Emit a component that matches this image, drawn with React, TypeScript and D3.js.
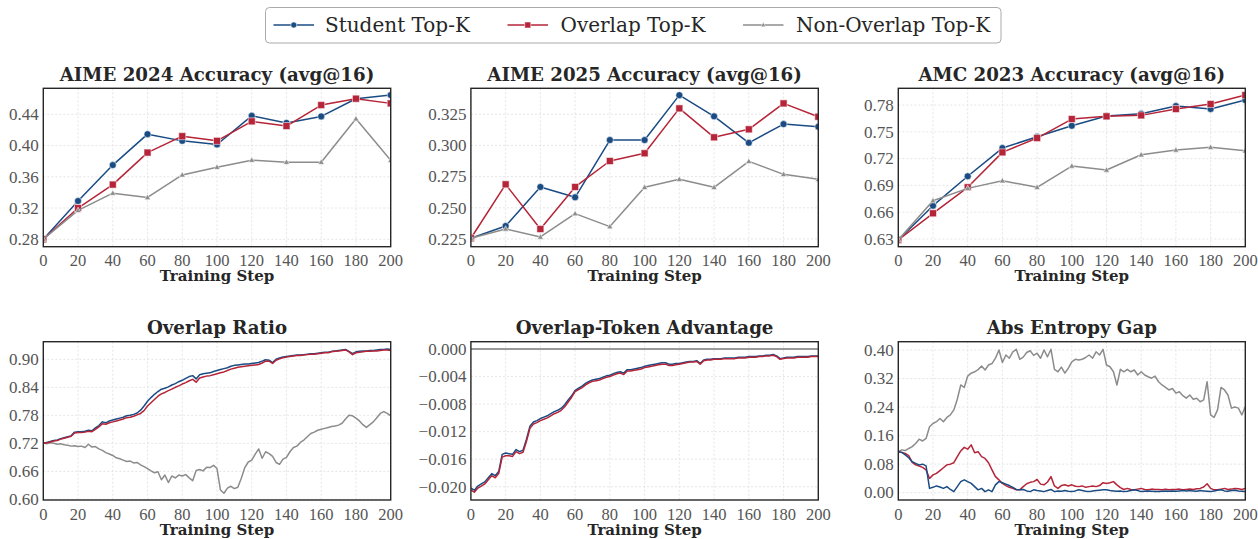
import React from 'react';
import * as d3 from 'd3';

// ---------- data ----------
const evalSteps = [0, 20, 40, 60, 80, 100, 120, 140, 160, 180, 200];
const xTickValues = [0, 20, 40, 60, 80, 100, 120, 140, 160, 180, 200];
const seriesNames = ['Student Top-K', 'Overlap Top-K', 'Non-Overlap Top-K'];

const aime24Student = [0.28, 0.329, 0.375, 0.4146, 0.406, 0.4014, 0.438, 0.429, 0.4373, 0.4599, 0.4646];
const aime24Overlap = [0.28, 0.32, 0.35, 0.391, 0.412, 0.406, 0.431, 0.425, 0.4518, 0.46, 0.454];
const aime24NonOverlap = [0.28, 0.317, 0.339, 0.3335, 0.3624, 0.3723, 0.3813, 0.3787, 0.3787, 0.4342, 0.381];

const aime25Student = [0.2256, 0.2354, 0.2667, 0.2584, 0.3043, 0.3043, 0.3403, 0.3233, 0.3021, 0.3171, 0.315];
const aime25Overlap = [0.2256, 0.2688, 0.233, 0.2667, 0.2875, 0.2937, 0.3297, 0.3065, 0.3129, 0.3337, 0.323];
const aime25NonOverlap = [0.2256, 0.233, 0.2266, 0.2453, 0.2349, 0.2664, 0.2728, 0.2664, 0.2872, 0.2768, 0.2728];

const amc23Student = [0.629, 0.6673, 0.7002, 0.7318, 0.7445, 0.7568, 0.7676, 0.7702, 0.7788, 0.7755, 0.7855];
const amc23Overlap = [0.629, 0.6588, 0.6879, 0.727, 0.743, 0.7643, 0.7673, 0.7684, 0.7755, 0.7811, 0.7911];
const amc23NonOverlap = [0.629, 0.6729, 0.6867, 0.6952, 0.6879, 0.7117, 0.7072, 0.7243, 0.7296, 0.7326, 0.7288];

// per-step curves, logged every 2 steps
const trainSteps = d3.range(0, 201, 2);

const ratioStudent = [
  0.720, 0.722, 0.724, 0.726, 0.727, 0.730, 0.732, 0.734, 0.736, 0.744, 0.745,
  0.745, 0.746, 0.748, 0.747, 0.753, 0.758, 0.766, 0.764, 0.768, 0.770,
  0.772, 0.774, 0.776, 0.779, 0.780, 0.782, 0.785, 0.791, 0.800, 0.810,
  0.818, 0.825, 0.831, 0.836, 0.838, 0.841, 0.845, 0.848, 0.852, 0.855,
  0.859, 0.863, 0.865, 0.858, 0.867, 0.869, 0.870, 0.871, 0.874, 0.876,
  0.878, 0.880, 0.882, 0.885, 0.887, 0.888, 0.889, 0.890, 0.890, 0.891,
  0.892, 0.893, 0.896, 0.899, 0.898, 0.893, 0.900, 0.903, 0.905, 0.906,
  0.907, 0.908, 0.909, 0.909, 0.910, 0.911, 0.912, 0.912, 0.913, 0.914,
  0.915, 0.915, 0.917, 0.918, 0.919, 0.920, 0.921, 0.917, 0.912, 0.916,
  0.917, 0.918, 0.918, 0.919, 0.919, 0.920, 0.921, 0.921, 0.922, 0.921,
];
const ratioOverlap = [
  0.720, 0.721, 0.723, 0.725, 0.726, 0.729, 0.731, 0.733, 0.735, 0.742, 0.743,
  0.743, 0.744, 0.746, 0.745, 0.750, 0.755, 0.762, 0.761, 0.764, 0.766,
  0.768, 0.770, 0.772, 0.775, 0.776, 0.778, 0.781, 0.784, 0.790, 0.800,
  0.807, 0.814, 0.821, 0.826, 0.829, 0.833, 0.836, 0.840, 0.843, 0.847,
  0.850, 0.854, 0.857, 0.851, 0.860, 0.862, 0.864, 0.865, 0.867, 0.869,
  0.871, 0.873, 0.876, 0.879, 0.881, 0.883, 0.884, 0.885, 0.886, 0.887,
  0.888, 0.889, 0.892, 0.896, 0.896, 0.891, 0.898, 0.901, 0.903, 0.905,
  0.906, 0.907, 0.908, 0.908, 0.909, 0.910, 0.911, 0.911, 0.912, 0.913,
  0.914, 0.914, 0.916, 0.917, 0.918, 0.919, 0.920, 0.916, 0.910, 0.914,
  0.915, 0.916, 0.917, 0.917, 0.918, 0.918, 0.919, 0.920, 0.920, 0.919,
];
const ratioNonOverlap = [
  0.722, 0.719, 0.721, 0.720, 0.718, 0.719, 0.717, 0.716, 0.714, 0.715, 0.713,
  0.714, 0.711, 0.718, 0.712, 0.713, 0.708, 0.705, 0.700, 0.697, 0.694,
  0.689, 0.687, 0.684, 0.681, 0.682, 0.678, 0.679, 0.674, 0.670, 0.666,
  0.661, 0.657, 0.659, 0.642, 0.652, 0.636, 0.650, 0.646, 0.652, 0.650,
  0.653, 0.646, 0.640, 0.662, 0.664, 0.661, 0.669, 0.668, 0.673, 0.666,
  0.620, 0.613, 0.624, 0.628, 0.623, 0.626, 0.645, 0.668, 0.680, 0.684,
  0.697, 0.708, 0.688, 0.702, 0.698, 0.692, 0.679, 0.675, 0.686, 0.690,
  0.702, 0.711, 0.714, 0.722, 0.727, 0.734, 0.741, 0.744, 0.748, 0.750,
  0.752, 0.754, 0.756, 0.757, 0.759, 0.763, 0.772, 0.780, 0.779, 0.774,
  0.768, 0.760, 0.754, 0.760, 0.766, 0.775, 0.784, 0.788, 0.784, 0.779,
];

const advStudent = [
  -0.0202, -0.0205, -0.0199, -0.0196, -0.0193, -0.0187, -0.0181, -0.0184, -0.0178, -0.0153, -0.0151,
  -0.0152, -0.0153, -0.0146, -0.0149, -0.0147, -0.0131, -0.0112, -0.0106, -0.0104, -0.0101,
  -0.0099, -0.0097, -0.0094, -0.0091, -0.0089, -0.0086, -0.0081, -0.0074, -0.0068, -0.0060,
  -0.0057, -0.0054, -0.0050, -0.0047, -0.0045, -0.0044, -0.0043, -0.0041, -0.0039, -0.0038,
  -0.0036, -0.0034, -0.0033, -0.0035, -0.0030, -0.0030, -0.0029, -0.0028, -0.0027, -0.0025,
  -0.0024, -0.0023, -0.0022, -0.0021, -0.0020, -0.0020, -0.0022, -0.0022, -0.0021, -0.0021,
  -0.0020, -0.0019, -0.0018, -0.0018, -0.0017, -0.0021, -0.0016, -0.0015, -0.0015, -0.0014,
  -0.0014, -0.0014, -0.0013, -0.0013, -0.0013, -0.0013, -0.0012, -0.0012, -0.0012, -0.0011,
  -0.0011, -0.0011, -0.0010, -0.0010, -0.0009, -0.0009, -0.0008, -0.0010, -0.0014, -0.0013,
  -0.0012, -0.0012, -0.0012, -0.0011, -0.0011, -0.0011, -0.0011, -0.0010, -0.0010, -0.0010,
];
const advOverlap = [
  -0.0205, -0.0208, -0.0202, -0.0199, -0.0196, -0.0190, -0.0184, -0.0187, -0.0181, -0.0157, -0.0155,
  -0.0155, -0.0156, -0.0149, -0.0152, -0.0150, -0.0134, -0.0115, -0.0109, -0.0107, -0.0104,
  -0.0102, -0.0100, -0.0097, -0.0094, -0.0092, -0.0089, -0.0084, -0.0077, -0.0070, -0.0062,
  -0.0059, -0.0056, -0.0052, -0.0049, -0.0047, -0.0046, -0.0045, -0.0043, -0.0041, -0.0040,
  -0.0038, -0.0036, -0.0035, -0.0037, -0.0032, -0.0032, -0.0031, -0.0030, -0.0029, -0.0027,
  -0.0026, -0.0025, -0.0024, -0.0023, -0.0022, -0.0022, -0.0024, -0.0024, -0.0023, -0.0022,
  -0.0021, -0.0020, -0.0019, -0.0019, -0.0018, -0.0022, -0.0017, -0.0016, -0.0016, -0.0015,
  -0.0015, -0.0015, -0.0014, -0.0014, -0.0014, -0.0014, -0.0013, -0.0013, -0.0013, -0.0012,
  -0.0012, -0.0012, -0.0011, -0.0011, -0.0010, -0.0010, -0.0009, -0.0011, -0.0015, -0.0014,
  -0.0013, -0.0013, -0.0013, -0.0012, -0.0012, -0.0012, -0.0012, -0.0011, -0.0011, -0.0011,
];
const advNonOverlapSteps = [0, 200];
const advNonOverlap = [0, 0];

const gapStudent = [
  0.115, 0.113, 0.106, 0.098, 0.087, 0.082, 0.078, 0.080, 0.075, 0.012, 0.015,
  0.019, 0.016, 0.012, 0.017, 0.009, 0.003, 0.017, 0.031, 0.036, 0.031,
  0.026, 0.017, 0.008, 0.012, 0.003, 0.008, 0.003, 0.022, 0.031, 0.028,
  0.024, 0.020, 0.015, 0.009, 0.008, 0.009, 0.005, 0.003, 0.008, 0.006,
  0.005, 0.003, 0.006, 0.009, 0.003, 0.005, 0.004, 0.006, 0.004, 0.003,
  0.005, 0.008, 0.006, 0.004, 0.003, 0.005, 0.006, 0.007, 0.008, 0.008,
  0.006, 0.005, 0.004, 0.005, 0.003, 0.004, 0.006, 0.008, 0.006, 0.003,
  0.004, 0.005, 0.004, 0.003, 0.003, 0.004, 0.005, 0.004, 0.005, 0.004,
  0.005, 0.006, 0.005, 0.006, 0.005, 0.004, 0.006, 0.005, 0.004, 0.003,
  0.005, 0.007, 0.008, 0.005, 0.004, 0.006, 0.007, 0.005, 0.004, 0.003,
];
const gapOverlap = [
  0.115, 0.113, 0.110, 0.104, 0.085, 0.078, 0.075, 0.071, 0.064, 0.040, 0.050,
  0.054, 0.062, 0.070, 0.078, 0.080, 0.084, 0.101, 0.117, 0.127, 0.122,
  0.134, 0.112, 0.115, 0.101, 0.096, 0.084, 0.064, 0.045, 0.036, 0.026,
  0.020, 0.015, 0.012, 0.008, 0.008, 0.017, 0.025, 0.029, 0.031, 0.037,
  0.024, 0.022, 0.030, 0.045, 0.019, 0.012, 0.020, 0.022, 0.019, 0.022,
  0.018, 0.017, 0.019, 0.015, 0.017, 0.019, 0.017, 0.020, 0.028, 0.026,
  0.028, 0.031, 0.022, 0.014, 0.009, 0.012, 0.009, 0.008, 0.010, 0.012,
  0.009, 0.008, 0.010, 0.009, 0.009, 0.008, 0.010, 0.008, 0.009, 0.009,
  0.010, 0.008, 0.009, 0.010, 0.009, 0.011, 0.012, 0.016, 0.025, 0.012,
  0.008, 0.008, 0.010, 0.012, 0.009, 0.010, 0.012, 0.011, 0.009, 0.012,
];
const gapNonOverlap = [
  0.115, 0.120, 0.118, 0.124, 0.129, 0.138, 0.150, 0.145, 0.152, 0.185, 0.194,
  0.199, 0.208, 0.199, 0.211, 0.218, 0.232, 0.262, 0.302, 0.295, 0.327,
  0.335, 0.339, 0.345, 0.355, 0.344, 0.358, 0.362, 0.377, 0.400, 0.365,
  0.386, 0.377, 0.395, 0.402, 0.374, 0.380, 0.393, 0.398, 0.385, 0.391,
  0.377, 0.400, 0.381, 0.402, 0.346, 0.339, 0.352, 0.335, 0.349, 0.367,
  0.374, 0.372, 0.374, 0.379, 0.386, 0.377, 0.395, 0.386, 0.402, 0.358,
  0.353, 0.339, 0.302, 0.346, 0.339, 0.346, 0.339, 0.344, 0.330, 0.339,
  0.330, 0.325, 0.321, 0.327, 0.311, 0.302, 0.295, 0.288, 0.292, 0.279,
  0.283, 0.272, 0.265, 0.274, 0.262, 0.265, 0.255, 0.260, 0.311, 0.218,
  0.211, 0.232, 0.295, 0.288, 0.274, 0.237, 0.240, 0.237, 0.218, 0.241,
];

const ticksAime24 = [0.28, 0.32, 0.36, 0.40, 0.44];
const ticksAime25 = [0.225, 0.25, 0.275, 0.3, 0.325];
const ticksAmc23 = [0.63, 0.66, 0.69, 0.72, 0.75, 0.78];
const ticksRatio = [0.60, 0.66, 0.72, 0.78, 0.84, 0.90];
const ticksAdv = [0, -0.004, -0.008, -0.012, -0.016, -0.020];
const ticksGap = [0, 0.08, 0.16, 0.24, 0.32, 0.40];

// ---------- style ----------
const BLUE = '#1a4c83';
const RED = '#b52438';
const GRAY = '#8c8c8c';
const COLORS = [BLUE, RED, GRAY];
const MARKERS = ['circle', 'square', 'triangle'];
const TITLE_FONT = "'DejaVu Serif', serif";
const TICK_FONT = "'Liberation Serif', serif";

type Series = { steps: number[]; values: number[]; color: string; marker?: string; width?: number };
type Panel = {
  title: string; x0: number; x1: number; y0: number; y1: number;
  domain: [number, number]; ticks: number[]; fmt: (v: number) => string; series: Series[];
};

const f2 = (v: number) => d3.format('.2f')(v);
const f3 = (v: number) => d3.format('.3f')(v).replace('-', '\u2212');

const COLS: [number, number][] = [[43.3, 390.7], [470.9, 818.3], [898.3, 1245.3]];
const TOP: [number, number] = [88.3, 246.7];
const BOT: [number, number] = [341.7, 500];

const evalSeries = (a: number[], b: number[], c: number[]): Series[] => [
  { steps: evalSteps, values: a, color: BLUE, marker: 'circle' },
  { steps: evalSteps, values: b, color: RED, marker: 'square' },
  { steps: evalSteps, values: c, color: GRAY, marker: 'triangle' },
];

const panels: Panel[] = [
  { title: 'AIME 2024 Accuracy (avg@16)', x0: COLS[0][0], x1: COLS[0][1], y0: TOP[0], y1: TOP[1],
    domain: [0.2705, 0.4733], ticks: ticksAime24, fmt: f2,
    series: evalSeries(aime24Student, aime24Overlap, aime24NonOverlap) },
  { title: 'AIME 2025 Accuracy (avg@16)', x0: COLS[1][0], x1: COLS[1][1], y0: TOP[0], y1: TOP[1],
    domain: [0.2188, 0.3458], ticks: ticksAime25, fmt: f3,
    series: evalSeries(aime25Student, aime25Overlap, aime25NonOverlap) },
  { title: 'AMC 2023 Accuracy (avg@16)', x0: COLS[2][0], x1: COLS[2][1], y0: TOP[0], y1: TOP[1],
    domain: [0.6214, 0.7987], ticks: ticksAmc23, fmt: f2,
    series: evalSeries(amc23Student, amc23Overlap, amc23NonOverlap) },
  { title: 'Overlap Ratio', x0: COLS[0][0], x1: COLS[0][1], y0: BOT[0], y1: BOT[1],
    domain: [0.5986, 0.9377], ticks: ticksRatio, fmt: f2,
    series: [
      { steps: trainSteps, values: ratioNonOverlap, color: GRAY },
      { steps: trainSteps, values: ratioStudent, color: BLUE },
      { steps: trainSteps, values: ratioOverlap, color: RED },
    ] },
  { title: 'Overlap-Token Advantage', x0: COLS[1][0], x1: COLS[1][1], y0: BOT[0], y1: BOT[1],
    domain: [-0.02193, 0.00106], ticks: ticksAdv, fmt: f3,
    series: [
      { steps: advNonOverlapSteps, values: advNonOverlap, color: '#999999', width: 2 },
      { steps: trainSteps, values: advStudent, color: BLUE },
      { steps: trainSteps, values: advOverlap, color: RED },
    ] },
  { title: 'Abs Entropy Gap', x0: COLS[2][0], x1: COLS[2][1], y0: BOT[0], y1: BOT[1],
    domain: [-0.0205, 0.4233], ticks: ticksGap, fmt: f2,
    series: [
      { steps: trainSteps, values: gapNonOverlap, color: GRAY },
      { steps: trainSteps, values: gapOverlap, color: RED },
      { steps: trainSteps, values: gapStudent, color: BLUE },
    ] },
];

function Marker({ kind, x, y, color, size }: { kind: string; x: number; y: number; color: string; size: number }) {
  const edge = { stroke: '#ffffff', strokeOpacity: 0.55, strokeWidth: 1 };
  if (kind === 'circle') return <circle cx={x} cy={y} r={size / 2} fill={color} {...edge} />;
  if (kind === 'square') return <rect x={x - size / 2} y={y - size / 2} width={size} height={size} fill={color} {...edge} />;
  const s = size * 0.9;
  const pts = `${x},${y - s * 0.6} ${x - s * 0.55},${y + s * 0.4} ${x + s * 0.55},${y + s * 0.4}`;
  return <polygon points={pts} fill={color} {...edge} />;
}

function PanelView({ p, idx }: { p: Panel; idx: number }) {
  const xs = d3.scaleLinear().domain([0, 200]).range([p.x0, p.x1]);
  const ys = d3.scaleLinear().domain(p.domain).range([p.y1, p.y0]);
  const line = (s: Series) =>
    d3.line<number>().x((_, i) => xs(s.steps[i])).y((v) => ys(v))(s.values) || '';
  const cid = `clip${idx}`;
  return (
    <g>
      <defs>
        <clipPath id={cid}>
          <rect x={p.x0} y={p.y0} width={p.x1 - p.x0} height={p.y1 - p.y0} />
        </clipPath>
      </defs>
      <rect x={p.x0} y={p.y0} width={p.x1 - p.x0} height={p.y1 - p.y0} fill="#ffffff" />
      {xTickValues.map((t) => (
        <line key={'gx' + t} x1={xs(t)} x2={xs(t)} y1={p.y0} y2={p.y1} stroke="#e2e2e2" strokeWidth={0.9} strokeDasharray="2,2" />
      ))}
      {p.ticks.map((t) => (
        <line key={'gy' + t} x1={p.x0} x2={p.x1} y1={ys(t)} y2={ys(t)} stroke="#e2e2e2" strokeWidth={0.9} strokeDasharray="2,2" />
      ))}
      <g clipPath={`url(#${cid})`}>
        {p.series.map((s, i) => (
          <g key={i}>
            <path d={line(s)} fill="none" stroke={s.color} strokeWidth={s.width ?? 1.5} strokeLinejoin="round" />
            {s.marker && s.values.map((v, j) => (
              <Marker key={j} kind={s.marker!} x={xs(s.steps[j])} y={ys(v)} color={s.color} size={s.marker === 'triangle' ? 6 : 7} />
            ))}
          </g>
        ))}
      </g>
      <rect x={p.x0} y={p.y0} width={p.x1 - p.x0} height={p.y1 - p.y0} fill="none" stroke="#262626" strokeWidth={1.4} />
      {xTickValues.map((t) => (
        <text key={'tx' + t} x={xs(t)} y={p.y1 + 19.5} textAnchor="middle" fontFamily={TICK_FONT} fontSize={16.5} fill="#555555">{t}</text>
      ))}
      {p.ticks.map((t) => (
        <text key={'ty' + t} x={p.x0 - 4.5} y={ys(t) + 5.8} textAnchor="end" fontFamily={TICK_FONT} fontSize={17} fill="#555555">{p.fmt(t)}</text>
      ))}
      <text x={(p.x0 + p.x1) / 2} y={p.y0 - 7.5} textAnchor="middle" fontFamily={TITLE_FONT} fontWeight="bold" fontSize={18.2} fill="#262626">{p.title}</text>
      <text x={(p.x0 + p.x1) / 2} y={p.y1 + 34.5} textAnchor="middle" fontFamily={TITLE_FONT} fontWeight="bold" fontSize={15} fill="#262626">Training Step</text>
    </g>
  );
}

function Legend() {
  const items = [
    { x: 273.5, tx: 325 },
    { x: 507.5, tx: 560.5 },
    { x: 743, tx: 796 },
  ];
  return (
    <g>
      <rect x={265.5} y={7.5} width={735.5} height={35.5} rx={4} fill="#ffffff" stroke="#aaaaaa" strokeWidth={1} />
      {items.map((it, i) => (
        <g key={i}>
          <line x1={it.x} x2={it.x + 40.5} y1={25} y2={25} stroke={COLORS[i]} strokeWidth={1.5} />
          <Marker kind={MARKERS[i]} x={it.x + 20.25} y={25} color={COLORS[i]} size={i === 2 ? 5 : 6} />
          <text x={it.tx} y={32} fontFamily={TITLE_FONT} fontSize={20} fill="#262626">{seriesNames[i]}</text>
        </g>
      ))}
    </g>
  );
}

export default function App() {
  return (
    <svg width={1258} height={539} viewBox="0 0 1258 539"
      style={{ position: 'absolute', left: 0, top: 0, background: '#ffffff' }}>
      <rect x={0} y={0} width={1258} height={539} fill="#ffffff" />
      {panels.map((p, i) => <PanelView key={i} p={p} idx={i} />)}
      <Legend />
    </svg>
  );
}
